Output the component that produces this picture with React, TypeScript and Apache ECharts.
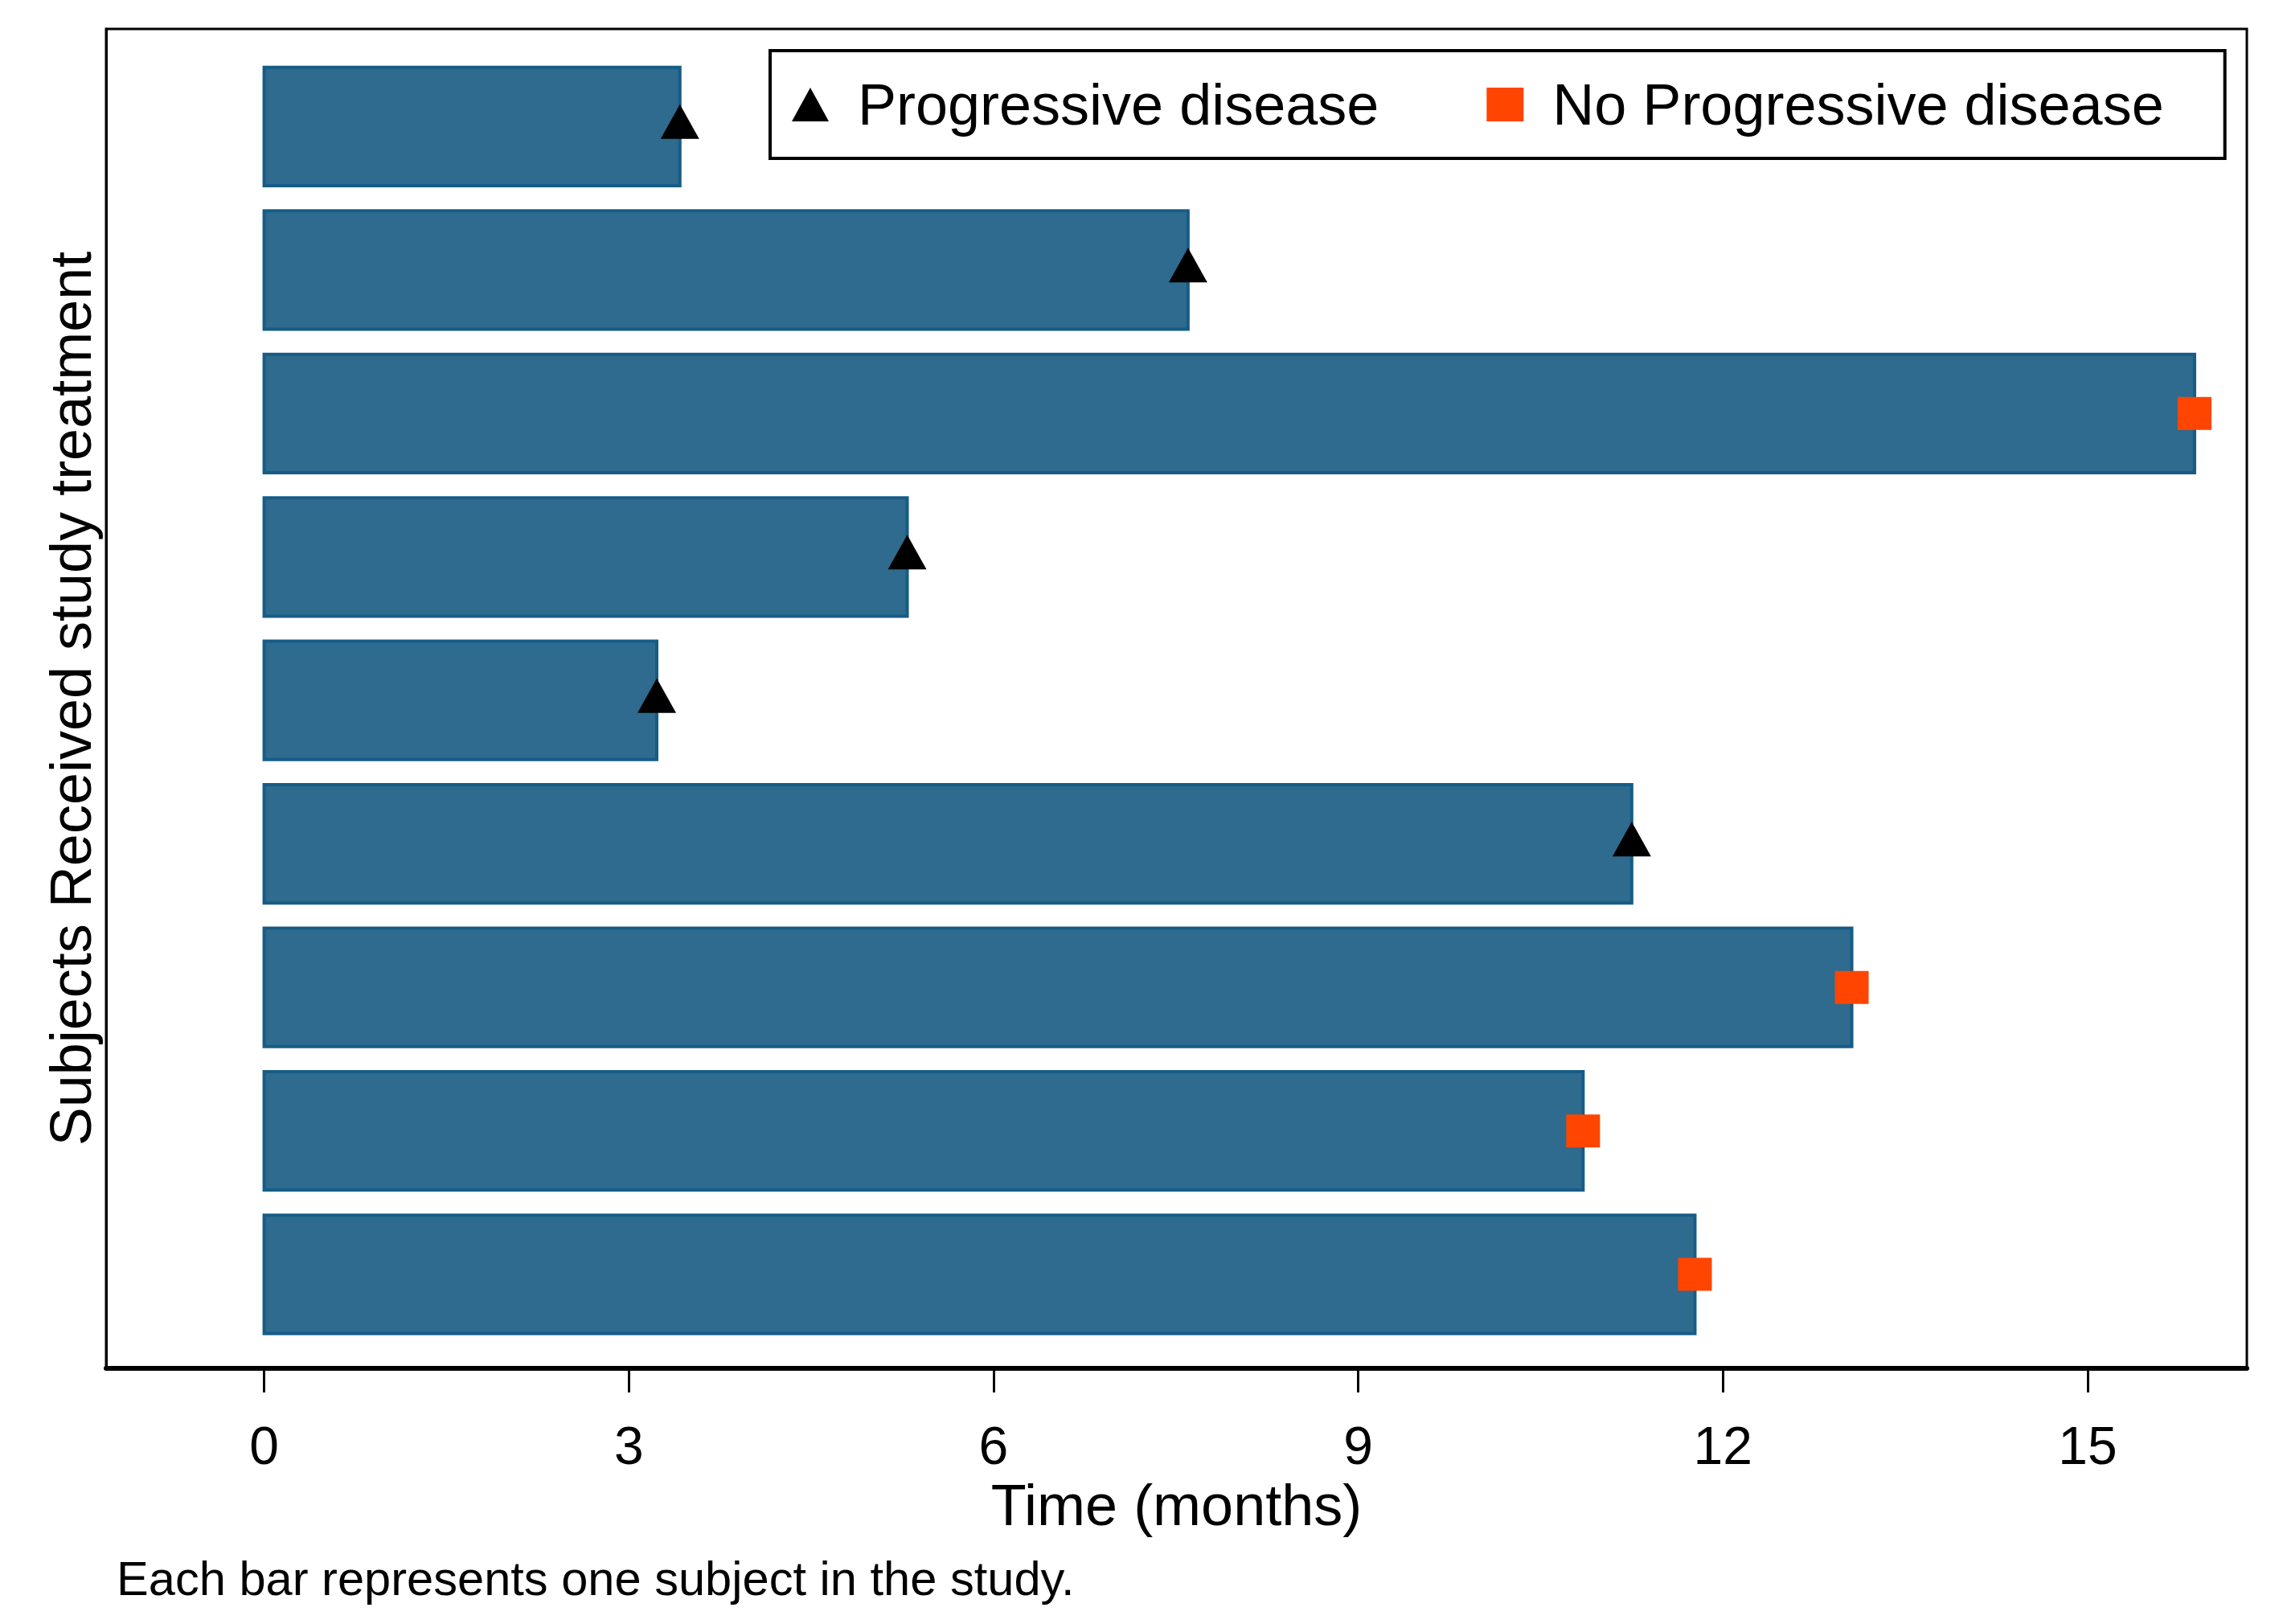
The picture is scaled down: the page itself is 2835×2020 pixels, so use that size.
import React, { useEffect, useRef } from "react";
import * as echarts from "echarts";

const subjects = [1, 2, 3, 4, 5, 6, 7, 8, 9];
const months = [3.42, 7.6, 15.88, 5.29, 3.23, 11.25, 13.06, 10.85, 11.77];
const status = ["PD", "PD", "NPD", "PD", "PD", "PD", "NPD", "NPD", "NPD"];
const xTicks = [0, 3, 6, 9, 12, 15];
const pdLabel = "Progressive disease";
const npdLabel = "No Progressive disease";

const FONT = "'Liberation Sans', Arial, sans-serif";

export default function App() {
  const ref = useRef<HTMLDivElement>(null);
  useEffect(() => {
    if (!ref.current) return;
    const chart = echarts.init(ref.current, null, { renderer: "svg" });
    const barData = subjects.map((s, i) => [months[i], s]);
    const pdData = subjects.filter((_, i) => status[i] === "PD").map((s) => [months[s - 1], s]);
    const npdData = subjects.filter((_, i) => status[i] === "NPD").map((s) => [months[s - 1], s]);
    chart.setOption({
      animation: false,
      backgroundColor: "#fff",
      textStyle: { fontFamily: FONT },
      grid: {
        left: 132,
        right: 40,
        top: 36,
        bottom: 318,
        show: true,
        borderColor: "#000",
        borderWidth: 3,
        backgroundColor: "#fff",
      },
      xAxis: {
        type: "value",
        min: -1.3,
        max: 16.31,
        name: "Time (months)",
        nameLocation: "middle",
        nameGap: 129,
        nameTextStyle: { fontSize: 72, color: "#000", fontFamily: FONT },
        axisLine: { show: true, onZero: false, lineStyle: { color: "#000", width: 6 } },
        axisTick: { show: true, length: 30, lineStyle: { color: "#000", width: 3 }, customValues: xTicks },
        axisLabel: { fontSize: 66, color: "#000", margin: 63, fontFamily: FONT, customValues: xTicks },
        splitLine: { show: false },
      },
      yAxis: {
        type: "value",
        min: 0.32,
        max: 9.655,
        inverse: true,
        name: "Subjects Received study treatment",
        nameLocation: "middle",
        nameGap: 8,
        nameTextStyle: { fontSize: 72, color: "#000", fontFamily: FONT },
        axisLine: { show: true, onZero: false, lineStyle: { color: "#000", width: 3 } },
        axisTick: { show: false },
        axisLabel: { show: false },
        splitLine: { show: false },
      },
      legend: {
        left: 958,
        top: 63,
        orient: "horizontal",
        borderColor: "#000",
        borderWidth: 4,
        padding: [31, 76, 31, 27],
        itemGap: 134,
        itemWidth: 46,
        itemHeight: 42,
        data: [
          { name: pdLabel, icon: "triangle" },
          { name: npdLabel, icon: "rect" },
        ],
        formatter: (name: string) => `{t|${name}}`,
        textStyle: {
          fontFamily: FONT,
          rich: {
            t: { fontSize: 72, color: "#000", fontFamily: FONT, padding: [0, 0, 0, 31] },
          },
        },
      },
      graphic: [
        {
          type: "text",
          left: 145,
          top: 1933,
          style: {
            text: "Each bar represents one subject in the study.",
            fontSize: 59.6,
            fontFamily: FONT,
            fill: "#000",
          },
        },
      ],
      series: [
        {
          type: "custom",
          name: "bars",
          data: barData,
          encode: { x: 0, y: 1 },
          z: 2,
          renderItem: (params: any, api: any) => {
            const y = api.value(1);
            const start = api.coord([0, y]);
            const end = api.coord([api.value(0), y]);
            const h = api.size([0, 1])[1] * 0.825;
            return {
              type: "rect",
              shape: { x: start[0], y: end[1] - h / 2, width: end[0] - start[0], height: h },
              style: { fill: "#2E6B8E", stroke: "#165C86", lineWidth: 4 },
            };
          },
        },
        {
          type: "scatter",
          name: pdLabel,
          data: pdData,
          symbol: "triangle",
          symbolSize: [48, 43],
          symbolOffset: [0, -6],
          itemStyle: { color: "#000", opacity: 1 },
          z: 5,
        },
        {
          type: "scatter",
          name: npdLabel,
          data: npdData,
          symbol: "rect",
          symbolSize: [42, 41],
          itemStyle: { color: "#FF4500", opacity: 1 },
          z: 5,
        },
      ],
    });
    return () => chart.dispose();
  }, []);
  return (
    <div
      ref={ref}
      style={{ position: "fixed", left: 0, top: 0, width: "2835px", height: "2020px", background: "#fff" }}
    />
  );
}
